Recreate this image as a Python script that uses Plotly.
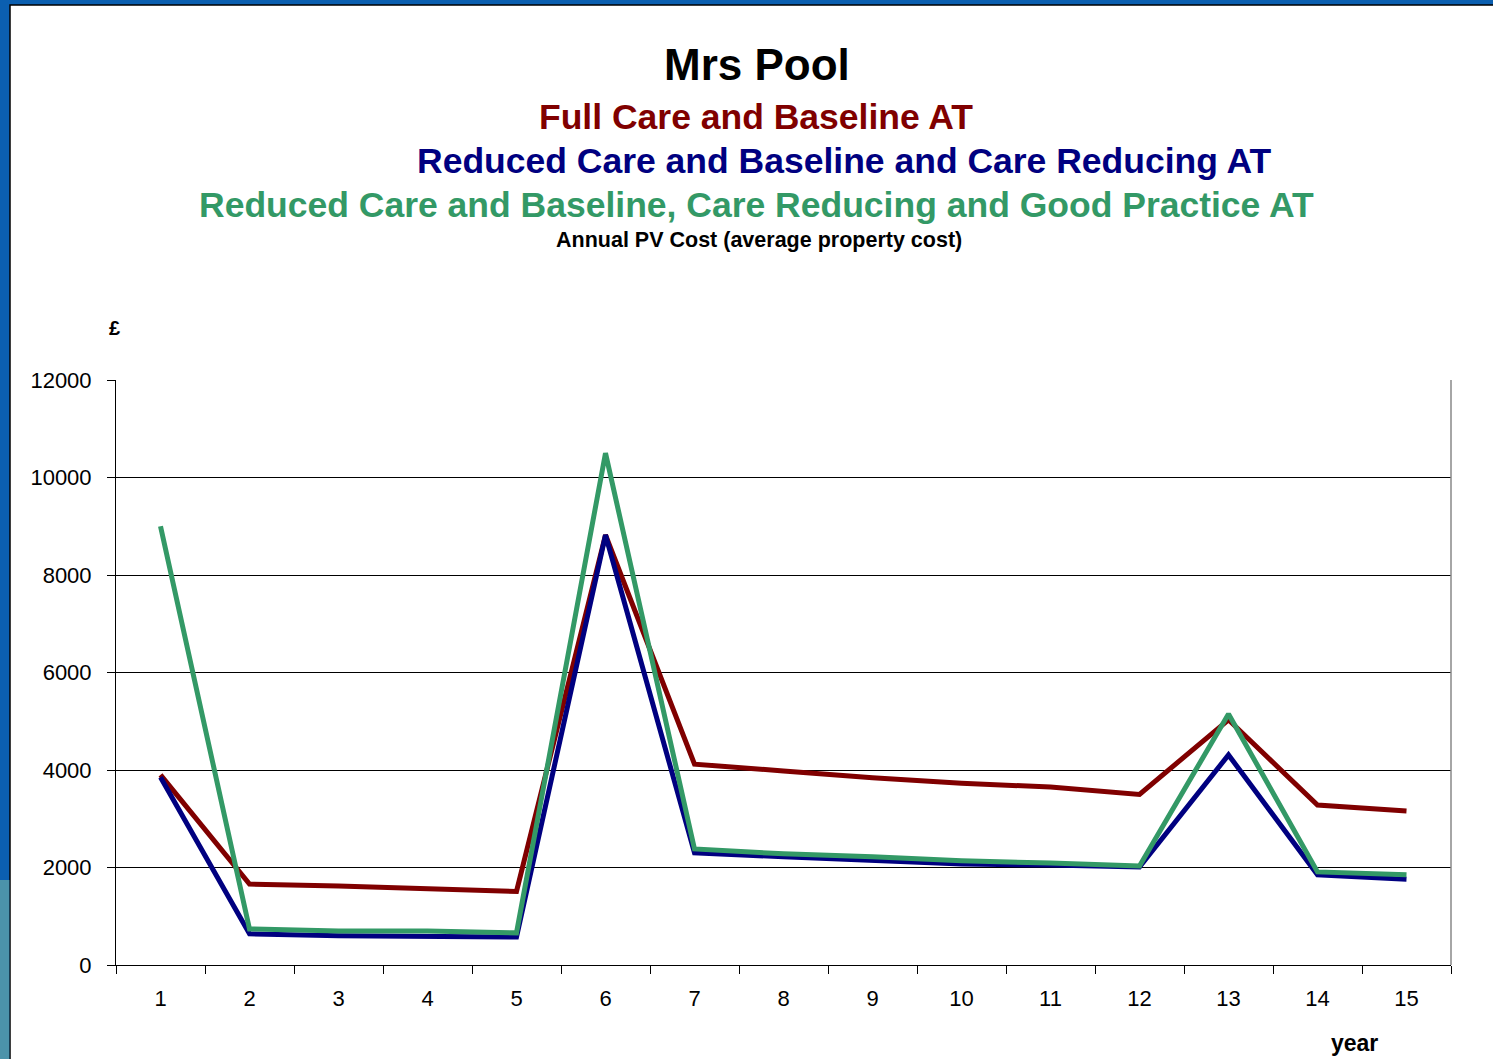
import plotly.graph_objects as go

years = [str(i) for i in range(1, 16)]
full_care = [3900, 1660, 1620, 1560, 1510, 8820, 4120, 3980, 3840, 3730, 3650, 3500, 5030, 3280, 3160]
reduced_care = [3850, 640, 600, 600, 575, 8820, 2300, 2220, 2140, 2070, 2050, 2010, 4310, 1850, 1760]
reduced_gp = [9000, 740, 700, 700, 660, 10500, 2380, 2280, 2220, 2140, 2090, 2030, 5150, 1910, 1850]
y_ticks = [0, 2000, 4000, 6000, 8000, 10000, 12000]
y_tick_labels = ["0", "2000", "4000", "6000", "8000", "10000", "12000"]

series_names = ["Full Care and Baseline AT",
                "Reduced Care and Baseline and Care Reducing AT",
                "Reduced Care and Baseline, Care Reducing and Good Practice AT"]
colors = ["#800000", "#000080", "#339966"]

W, H = 1493, 1059
L, R, T, B = 116, 1451, 380, 965

def px(x):
    return (x - L) / (R - L)

def py(y):
    return (B - y) / (B - T)

fig = go.Figure()
for name, vals, c in zip(series_names, [full_care, reduced_care, reduced_gp], colors):
    fig.add_trace(go.Scatter(x=years, y=vals, mode="lines", name=name,
                             line=dict(color=c, width=5), showlegend=False))

font = "Liberation Sans, Arial, sans-serif"
fig.update_layout(
    width=W, height=H,
    margin=dict(l=L, r=W - R, t=T, b=H - B, autoexpand=False),
    paper_bgcolor="#0b5fb0",
    plot_bgcolor="white",
    font=dict(family=font, color="black"),
    xaxis=dict(type="category", tickson="boundaries", ticks="outside", ticklen=8,
               tickcolor="black", showline=True, linecolor="black", linewidth=1,
               showgrid=False, tickfont=dict(size=22), range=[-0.5, 14.5],
               ticklabelstandoff=14),
    yaxis=dict(range=[0, 12000], tickvals=y_ticks, ticktext=y_tick_labels,
               ticks="outside", ticklen=8,
               tickcolor="black", showline=True, linecolor="black", linewidth=1,
               showgrid=True, gridcolor="black", gridwidth=1, zeroline=False,
               tickfont=dict(size=22), ticklabelstandoff=11),
)

shapes = [
    dict(type="rect", xref="paper", yref="paper", x0=px(10), x1=px(W + 5), y0=py(H + 5), y1=py(5),
         fillcolor="white", line=dict(color="black", width=1.5), layer="below"),
    dict(type="rect", xref="paper", yref="paper", x0=px(-2), x1=px(9.3), y0=py(H + 5), y1=py(880),
         fillcolor="#4b93aa", line=dict(width=0), layer="below"),
    dict(type="line", xref="paper", yref="paper", x0=1, x1=1, y0=0, y1=1,
         line=dict(color="#888888", width=1.5)),
]
fig.update_layout(shapes=shapes)

ann = [
    ("<b>Mrs Pool</b>", 757, 65, 44, "black"),
    ("<b>" + series_names[0] + "</b>", 756, 117, 35.5, colors[0]),
    ("<b>" + series_names[1] + "</b>", 844, 161, 35.5, colors[1]),
    ("<b>" + series_names[2] + "</b>", 756, 205, 35.5, colors[2]),
    ("<b>Annual PV Cost (average property cost)</b>", 759, 240, 21.5, "black"),
    ("<b>£</b>", 114, 328, 20, "black"),
    ("<b>year</b>", 1354, 1043, 23, "black"),
]
for text, x, y, size, col in ann:
    fig.add_annotation(text=text, x=px(x), y=py(y), xref="paper", yref="paper",
                       showarrow=False, xanchor="center", yanchor="middle",
                       font=dict(size=size, color=col, family=font))

fig.write_html("out.html", config={"displayModeBar": False},
               post_script="document.body.style.margin='0';document.body.style.overflow='hidden';")
